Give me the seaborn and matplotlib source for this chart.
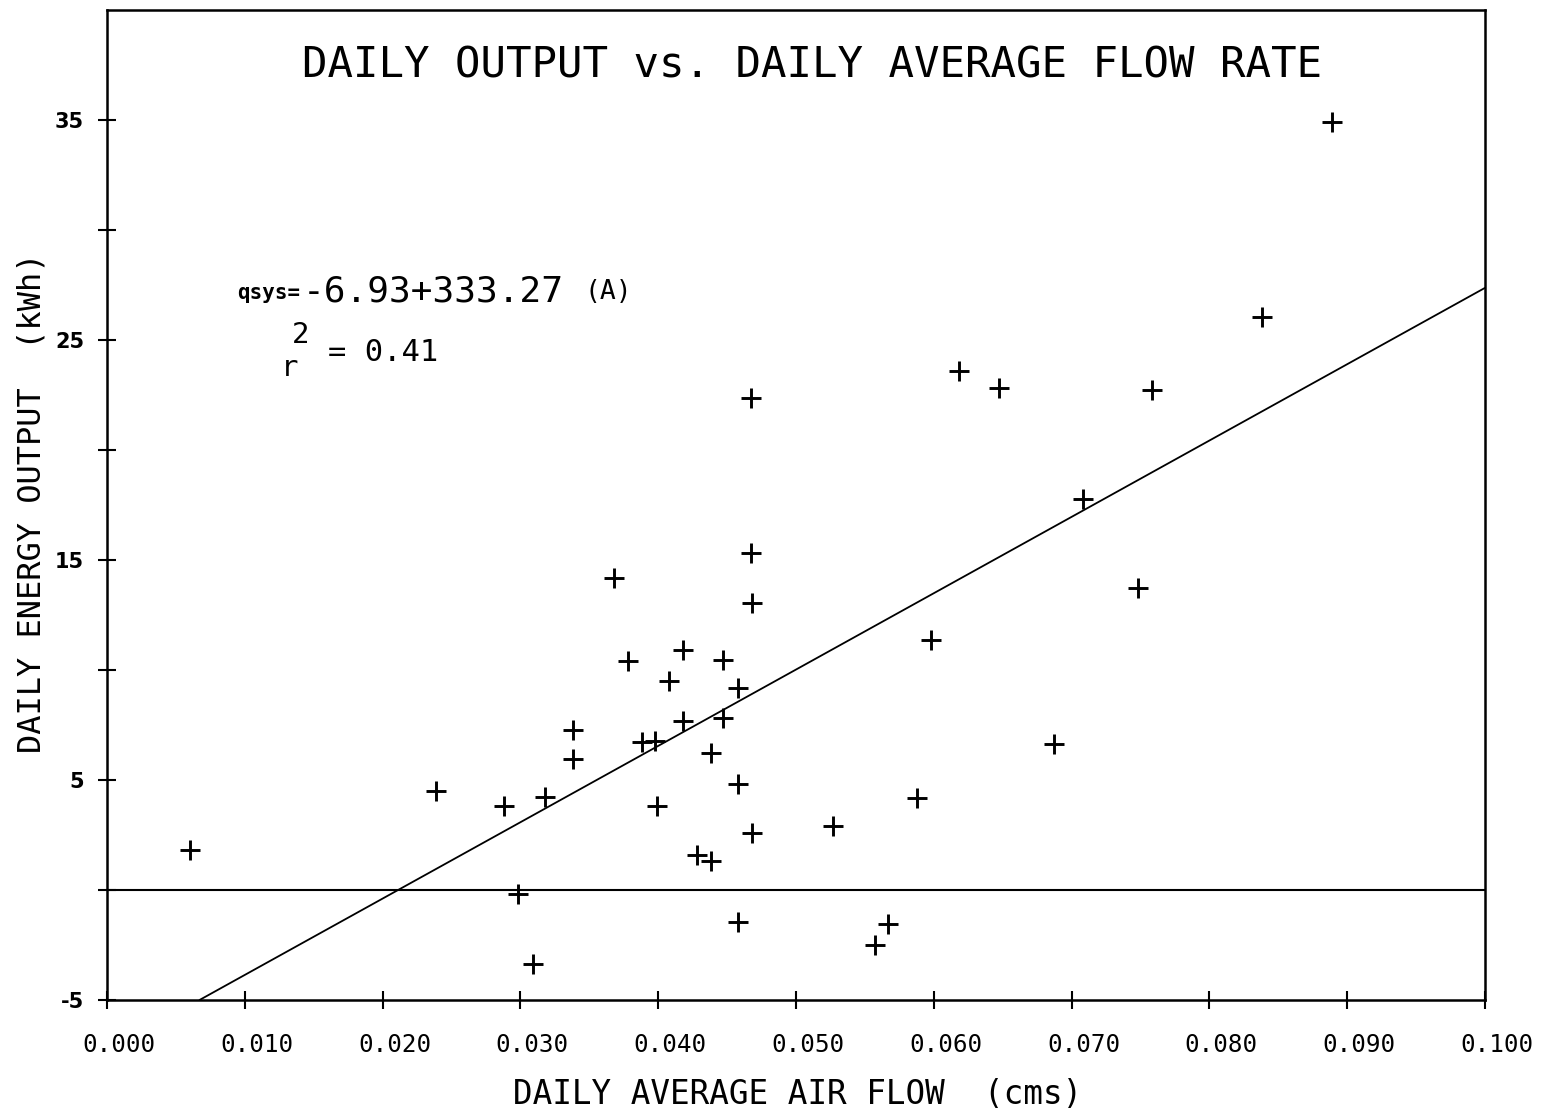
import matplotlib
matplotlib.use("Agg")
import matplotlib.pyplot as plt
import matplotlib.transforms as mtransforms
import pandas as pd
import seaborn as sns

# --- DATA ---
air_flow = [0.0060, 0.0239, 0.0288, 0.0318, 0.0298, 0.0309, 0.0338, 0.0338,
            0.0368, 0.0378, 0.0388, 0.0398, 0.0399, 0.0408, 0.0418, 0.0418,
            0.0428, 0.0438, 0.0438, 0.0447, 0.0447, 0.0458, 0.0458, 0.0458,
            0.0467, 0.0467, 0.0468, 0.0468, 0.0527, 0.0557, 0.0567, 0.0588,
            0.0598, 0.0618, 0.0647, 0.0687, 0.0708, 0.0748, 0.0758, 0.0838,
            0.0889]
energy_out = [1.81, 4.50, 3.82, 4.23, -0.19, -3.38, 7.28, 5.96,
              14.20, 10.42, 6.73, 6.78, 3.82, 9.51, 10.92, 7.69,
              1.58, 1.31, 6.23, 10.47, 7.82, 9.19, 4.82, -1.47,
              22.36, 15.34, 13.06, 2.59, 2.90, -2.52, -1.56, 4.18,
              11.38, 23.59, 22.81, 6.64, 17.76, 13.75, 22.72, 26.05,
              34.93]

# regression line as drawn on the chart (intercept, slope)
fit_intercept = -7.33
fit_slope = 347.0

x_tick_labels = ["0.000", "0.010", "0.020", "0.030", "0.040", "0.050",
                 "0.060", "0.070", "0.080", "0.090", "0.100"]
x_ticks = [float(t) for t in x_tick_labels]
y_ticks = [-5, 0, 5, 10, 15, 20, 25, 30, 35]
y_tick_labels = ["-5", "", "5", "", "15", "", "25", "", "35"]

title = "DAILY OUTPUT vs. DAILY AVERAGE FLOW RATE"
x_label = "DAILY AVERAGE AIR FLOW  (cms)"
y_label = "DAILY ENERGY OUTPUT  (kWh)"

df = pd.DataFrame({"flow": air_flow, "energy": energy_out})

sns.set_style("ticks")
plt.rcParams["font.family"] = ["DejaVu Sans Mono", "DejaVu Sans"]
plt.rcParams["text.color"] = "black"
plt.rcParams["xtick.color"] = "black"
plt.rcParams["ytick.color"] = "black"

W, H = 1547, 1118
fig = plt.figure(figsize=(W / 100, H / 100), dpi=100)
ax = fig.add_axes([107 / W, 1 - 1000 / H, (1485 - 107) / W, (1000 - 10) / H])

sns.scatterplot(data=df, x="flow", y="energy", marker="+", s=200,
                color="black", linewidth=2.1, ax=ax, legend=False, zorder=3)
ax.axline((0, fit_intercept), slope=fit_slope, color="black", lw=1.3)
ax.axhline(0, color="black", lw=1.5)

ax.set_xlim(0, 0.1)
ax.set_ylim(-5, 40)
ax.set_xticks(x_ticks)
ax.set_xticklabels(x_tick_labels, fontsize=17.5)
ax.set_yticks(y_ticks)
ax.set_yticklabels(y_tick_labels, fontsize=15, fontweight="bold",
                   family="DejaVu Sans")
ax.tick_params(direction="inout", length=13, width=1.5, colors="black")
ax.tick_params(axis="x", pad=17)
ax.tick_params(axis="y", pad=10)
# plotter labels sit a little right of their tick
offset = mtransforms.ScaledTranslation(0.12, 0, fig.dpi_scale_trans)
for lbl in ax.get_xticklabels():
    lbl.set_transform(lbl.get_transform() + offset)

for side in ["left", "right", "top", "bottom"]:
    ax.spines[side].set_visible(True)
    ax.spines[side].set_linewidth(1.8)
    ax.spines[side].set_color("black")
ax.set_xlabel("")
ax.set_ylabel("")

# titles and labels placed like the plotter output
fig.text(812 / W, 1 - 65 / H, title, ha="center", va="center", fontsize=30.5)
fig.text(798 / W, 1 - 1095 / H, x_label, ha="center", va="center", fontsize=23.5)
fig.text(32 / W, 1 - 503 / H, y_label, ha="center", va="center",
         rotation=90, fontsize=23)

# regression annotation
fig.text(237 / W, 1 - 293 / H, "qsys=", ha="left", va="center",
         fontsize=15, fontweight="bold")
fig.text(303 / W, 1 - 291 / H, "-6.93+333.27", ha="left", va="center",
         fontsize=26)
fig.text(584 / W, 1 - 292 / H, "(A)", ha="left", va="center", fontsize=19)
fig.text(281 / W, 1 - 368 / H, "r", ha="left", va="center", fontsize=21)
fig.text(292 / W, 1 - 335 / H, "2", ha="left", va="center", fontsize=21)
fig.text(328 / W, 1 - 352 / H, "= 0.41", ha="left", va="center", fontsize=22)

fig.savefig("out.png", dpi=100, facecolor="white")
